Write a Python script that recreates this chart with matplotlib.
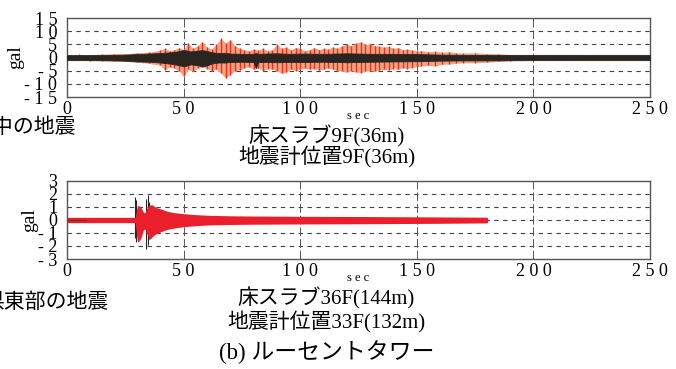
import matplotlib
matplotlib.use("Agg")
import matplotlib.pyplot as plt

# ---- top record: floor slab 9F / sensor 9F (envelopes, gal)
t_red = [0, 5, 10, 15, 20, 25, 30, 35, 40, 42, 44, 46, 48, 50, 52, 54, 56, 58,
         60, 62, 64, 66, 68, 70, 72, 74, 76, 78, 80, 82, 84, 86, 88, 90, 92, 94,
         96, 98, 100, 102, 104, 106, 108, 110, 112, 114, 116, 118, 120, 122,
         124, 126, 128, 130, 132, 134, 136, 138, 140, 142, 144, 146, 148, 150,
         152, 155, 158, 161, 164, 167, 170, 175, 180, 185, 190, 195, 200, 210,
         220, 230, 240, 250]
red_hi = [1.0, 1.2, 1.0, 1.3, 1.5, 1.4, 1.8, 2.0, 2.8, 3.5, 2.5, 3.0, 3.8, 3.0,
          5.4, 3.5, 4.5, 6.0, 4.0, 3.2, 5.0, 7.3, 5.5, 6.7, 4.5, 3.5, 3.0, 2.5,
          3.2, 2.8, 3.5, 2.5, 3.0, 5.0, 3.5, 4.0, 3.0, 3.8, 3.5, 2.5, 3.0, 3.8,
          3.0, 3.5, 3.2, 4.0, 3.5, 4.5, 5.0, 4.5, 5.5, 6.0, 5.0, 5.2, 4.5, 4.3,
          4.0, 4.2, 3.5, 3.8, 3.0, 3.2, 2.8, 2.5, 2.6, 2.2, 2.4, 2.0, 2.2, 1.8,
          1.7, 1.8, 1.5, 1.4, 1.1, 1.0, 0.9, 0.8, 0.8, 0.7, 0.7, 0.7]
red_lo = [-1.0, -1.1, -1.2, -1.2, -1.4, -1.5, -1.8, -2.2, -3.0, -4.7, -3.5,
          -4.0, -5.0, -7.2, -4.5, -5.3, -4.0, -3.5, -4.2, -5.0, -4.5, -6.0,
          -7.8, -6.5, -5.0, -4.7, -4.0, -3.5, -4.5, -4.0, -5.0, -4.2, -4.5,
          -5.0, -6.0, -5.5, -4.5, -5.0, -4.5, -4.0, -4.5, -4.2, -4.8, -4.5,
          -4.0, -4.5, -5.0, -5.2, -5.5, -5.0, -5.5, -5.8, -5.2, -5.0, -5.2,
          -4.8, -4.5, -4.8, -4.2, -4.5, -4.0, -4.2, -3.8, -3.5, -3.2, -3.0,
          -3.2, -2.6, -2.5, -2.2, -2.0, -2.0, -1.8, -1.5, -1.2, -1.0, -1.0,
          -0.8, -0.8, -0.7, -0.7, -0.7]

t_blk = [0, 10, 20, 25, 30, 35, 40, 45, 48, 50, 53, 56, 58, 60, 62, 65, 68, 70,
         75, 80, 81, 82, 85, 90, 95, 100, 110, 120, 130, 140, 150, 160, 170,
         180, 200, 220, 250]
blk_hi = [0.9, 0.9, 1.0, 1.1, 1.3, 1.5, 1.7, 2.0, 2.4, 2.9, 2.3, 2.6, 2.8, 2.5,
          2.0, 1.7, 1.8, 1.5, 1.4, 1.4, 1.7, 1.4, 1.5, 1.6, 1.4, 1.5, 1.4, 1.6,
          1.4, 1.4, 1.3, 1.1, 1.0, 1.0, 1.0, 1.0, 1.0]
blk_lo = [-1.0, -1.0, -1.1, -1.2, -1.5, -1.6, -1.9, -2.4, -2.9, -3.4, -2.6,
          -2.9, -3.4, -3.0, -2.3, -1.9, -1.9, -1.7, -1.6, -1.7, -4.0, -1.7,
          -1.7, -1.8, -1.7, -1.7, -1.6, -1.8, -1.6, -1.5, -1.4, -1.2, -1.1,
          -1.1, -1.0, -1.0, -1.0]

# ---- bottom record: floor slab 36F / sensor 33F
t_b = [0, 29.5, 30.0, 30.5, 31.5, 32.5, 33.5, 34.5, 35.5, 36.5, 38, 40, 43,
       46, 50, 55, 60, 70, 80, 100, 130, 160, 180]
b_red_hi = [0.14, 0.14, 0.6, 1.05, 0.9, 0.55, 0.45, 0.85, 1.1, 1.1, 0.9, 0.8,
            0.6, 0.5, 0.42, 0.35, 0.3, 0.26, 0.24, 0.22, 0.2, 0.17, 0.15]
b_red_lo = [-0.14, -0.14, -0.8, -1.6, -1.3, -0.7, -0.6, -1.0, -1.4, -1.2,
            -1.0, -0.85, -0.65, -0.55, -0.45, -0.38, -0.32, -0.28, -0.26,
            -0.24, -0.22, -0.19, -0.16]
b_blk_t = [29.0, 29.8, 33.9, 34.6, 35.3]
b_blk_hi = [1.8, 1.5, 1.6, 1.9, 1.4]
b_blk_lo = [-1.4, -1.7, -2.2, -1.9, -1.5]

x_ticks = [0, 50, 100, 150, 200, 250]
top_yticks = [-15, -10, -5, 0, 5, 10, 15]
bot_yticks = [-3, -2, -1, 0, 1, 2, 3]

SERIF = ["Liberation Serif", "Noto Sans CJK JP"]
RED = "#e8301c"
BRED = "#ea1f2b"
BLACK = "#2a2521"


def spaced(v):
    return " ".join(str(v))


def style_axes(ax, yticks, ylim):
    ax.set_xlim(0, 250)
    ax.set_ylim(*ylim)
    ax.set_xticks(x_ticks)
    ax.set_xticklabels([spaced(v) for v in x_ticks], family=SERIF, fontsize=13)
    ax.set_yticks(yticks)
    ax.set_yticklabels([spaced(v) for v in yticks], family=SERIF, fontsize=13)
    ax.tick_params(length=0, pad=3)
    ax.tick_params(axis="y", pad=7)
    for y in yticks[1:-1]:
        ax.axhline(y, color="#444", lw=0.8, ls=(0, (4, 4)), zorder=0)
    for x in x_ticks[1:-1]:
        ax.axvline(x, color="#555", lw=0.7, ls=(0, (9, 3)), zorder=0)
    for sp in ax.spines.values():
        sp.set_color("#555")
        sp.set_linewidth(1.0)
    ax.set_ylabel("gal", family=SERIF, fontsize=14, labelpad=0)
    ax.set_xlabel("s e c", family=SERIF, fontsize=9, labelpad=-6)


fig = plt.figure(figsize=(6.76, 3.69), dpi=100)
fig.patch.set_facecolor("white")

ax1 = fig.add_axes([0.0991, 0.7371, 0.8624, 0.2141])
ax1.fill_between(t_red, red_lo, red_hi, color="#f5a384", lw=0, zorder=1)
ax1.vlines(t_red, red_lo, red_hi, color=RED, lw=1.0, zorder=2)
ax1.fill_between(t_blk, blk_lo, blk_hi, color=BLACK, lw=0.6, zorder=3)
style_axes(ax1, top_yticks, (-15, 15))

ax2 = fig.add_axes([0.0991, 0.2981, 0.8624, 0.2114])
ax2.vlines(b_blk_t, b_blk_lo, b_blk_hi, color=BLACK, lw=0.8, zorder=1)
ax2.fill_between(t_b, b_red_lo, b_red_hi, color=BRED, lw=1.2, zorder=2)
ax2.plot([0, 8], [0, 0], color="#8a2a20", lw=1.0, zorder=3)
style_axes(ax2, bot_yticks, (-3, 3))

# captions
fig.text(-0.012, 0.652, "中の地震", family=SERIF, fontsize=15, va="center",
         ha="left")
fig.text(0.483, 0.631, "床スラブ9F(36m)", family=SERIF, fontsize=15,
         ha="center", va="center")
fig.text(0.483, 0.573, "地震計位置9F(36m)", family=SERIF, fontsize=15,
         ha="center", va="center")
fig.text(-0.024, 0.178, "県東部の地震", family=SERIF, fontsize=15, va="center",
         ha="left")
fig.text(0.483, 0.192, "床スラブ36F(144m)", family=SERIF, fontsize=15,
         ha="center", va="center")
fig.text(0.483, 0.127, "地震計位置33F(132m)", family=SERIF, fontsize=15,
         ha="center", va="center")
fig.text(0.483, 0.045, "(b) ルーセントタワー", family=SERIF, fontsize=16.5,
         ha="center", va="center")

fig.savefig("out.png", dpi=100, facecolor="white")
